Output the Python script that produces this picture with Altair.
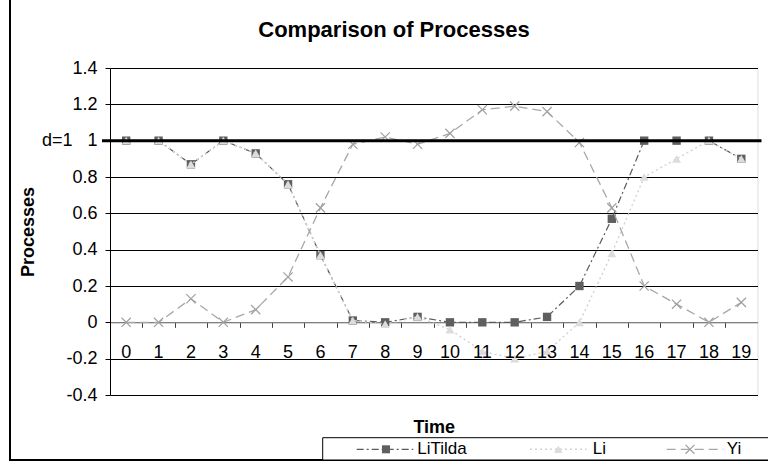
import altair as alt
import pandas as pd

# ---- data ----
time = list(range(20))
litilda = [1, 1, 0.87, 1, 0.93, 0.76, 0.37, 0.01, 0, 0.03, 0, 0, 0, 0.03, 0.2, 0.57, 1, 1, 1, 0.9]
li = [1, 1, 0.87, 1, 0.93, 0.76, 0.37, 0.01, -0.01, 0.03, -0.04, -0.16, -0.2, -0.16, 0, 0.38, 0.8, 0.9, 1, 0.9]
yi = [0, 0, 0.13, 0, 0.07, 0.25, 0.63, 0.98, 1.02, 0.98, 1.04, 1.17, 1.19, 1.16, 0.99, 0.63, 0.2, 0.1, 0, 0.11]
y_ticks = [-0.4, -0.2, 0, 0.2, 0.4, 0.6, 0.8, 1, 1.2, 1.4]
threshold = [1]
chart_title = "Comparison of Processes"

FONT = "Liberation Sans"
W, H = 647.5, 327

df = pd.DataFrame({"t": time, "LiTilda": litilda, "Li": li, "Yi": yi})

xscale = alt.Scale(domain=[-0.5, 19.5], nice=False, zero=False)
yscale = alt.Scale(domain=[-0.4, 1.4], nice=False, zero=False)

x_axis = alt.Axis(
    values=[k + 0.5 for k in range(19)], labels=False, grid=False,
    tickSize=5, tickColor="#404040", domainColor="#808080", domainWidth=1,
    offset=-H * 0.4 / 1.8, title="Time", titleFont=FONT, titleFontSize=18,
    titleFontWeight="bold", titleColor="black", titleY=110, titleBaseline="alphabetic",
)
y_axis = alt.Axis(
    values=y_ticks, grid=True,
    gridColor={"condition": {"test": "datum.value === 0", "value": "#808080"}, "value": "black"},
    gridWidth=1, domainColor="black", tickColor="black", tickSize=5,
    labelFont=FONT, labelFontSize=18, labelColor="black", labelPadding=8,
    labelExpr="datum.value == 1 ? 'd=1\u00a0\u00a0\u00a01' : '' + datum.value",
    title="Processes", titleFont=FONT, titleFontSize=18, titleFontWeight="bold",
    titleColor="black", titleX=-76.5, titleY=H / 2, titleAngle=270,
    titleAlign="center", titleBaseline="alphabetic",
)


def X(field):
    return alt.X(field, type="quantitative", scale=xscale, axis=x_axis, title="Time")


def Y(field):
    return alt.Y(field, type="quantitative", scale=yscale, axis=y_axis, title="Processes")


base = alt.Chart(df)

lt_line = base.mark_line(color="#5a5a5a", strokeWidth=1.2, strokeDash=[7, 3, 2, 3]).encode(x=X("t"), y=Y("LiTilda"))
lt_pts = base.mark_point(shape="square", filled=True, size=70, color="#5f5f5f", opacity=1).encode(x=X("t"), y=Y("LiTilda"))
li_line = base.mark_line(color="#d2d2d2", strokeWidth=1.4, strokeDash=[2, 3]).encode(x=X("t"), y=Y("Li"))
li_pts = base.mark_point(shape="triangle-up", filled=True, size=80, color="#dcdcdc", opacity=1).encode(x=X("t"), y=Y("Li"))
cross = "M-1,-1L1,1M-1,1L1,-1"
yi_line = base.mark_line(color="#a8a8a8", strokeWidth=1.3, strokeDash=[9, 5]).encode(x=X("t"), y=Y("Yi"))
yi_pts = base.mark_point(shape=cross, filled=False, size=85, color="#a0a0a0", strokeWidth=1.2, opacity=1).encode(x=X("t"), y=Y("Yi"))

x_labels = base.mark_text(font=FONT, fontSize=18, color="black", baseline="alphabetic", dy=36).encode(
    x=X("t"), y=alt.Y(datum=0, type="quantitative", scale=yscale, axis=y_axis, title="Processes"),
    text=alt.Text("t:N"),
)

thr = alt.Chart(pd.DataFrame({"d": threshold})).mark_rule(color="black", strokeWidth=3).encode(
    y=Y("d"), x=alt.value(-8), x2=alt.value(W + 4)
)

one = pd.DataFrame({"k": [0]})
title_mark = alt.Chart(one).mark_text(font=FONT, fontSize=22, fontWeight="bold", color="black",
                                      align="center", baseline="alphabetic").encode(
    x=alt.value(284), y=alt.value(-31), text=alt.value(chart_title))
frame = alt.Chart(one).mark_rect(fill=None, stroke="black", strokeWidth=2).encode(
    x=alt.value(-100), x2=alt.value(W + 60), y=alt.value(-90), y2=alt.value(392)
)
legend_box = alt.Chart(one).mark_rect(fill="white", stroke="black", strokeWidth=1).encode(
    x=alt.value(212.7), x2=alt.value(W + 60), y=alt.value(369.7), y2=alt.value(392)
)

leg_layers = [legend_box]
leg_specs = [
    # name, line start, marker x, text x, line style, marker style
    ("LiTilda", 246.7, 276, 307.3, dict(color="#5a5a5a", strokeWidth=1.2, strokeDash=[7, 3, 2, 3]),
     dict(shape="square", filled=True, size=64, color="#5f5f5f", opacity=1)),
    ("Li", 420, 448.3, 482.7, dict(color="#d2d2d2", strokeWidth=1.4, strokeDash=[2, 3]),
     dict(shape="triangle-up", filled=True, size=75, color="#dcdcdc", opacity=1)),
    ("Yi", 556.7, 580, 616.7, dict(color="#a8a8a8", strokeWidth=1.3, strokeDash=[9, 5]),
     dict(shape=cross, filled=False, size=80, color="#a0a0a0", strokeWidth=1.2, opacity=1)),
]
for name, x0, xm, xt, ls, ms in leg_specs:
    leg_layers.append(alt.Chart(one).mark_rule(**ls).encode(
        x=alt.value(x0), x2=alt.value(x0 + 56.6), y=alt.value(381.3)))
    leg_layers.append(alt.Chart(one).mark_point(**ms).encode(x=alt.value(xm), y=alt.value(381.3)))
    leg_layers.append(alt.Chart(one).mark_text(font=FONT, fontSize=17, color="black", align="left",
                                               baseline="alphabetic").encode(
        x=alt.value(xt), y=alt.value(386.3), text=alt.value(name)))

chart = alt.layer(
    lt_line, lt_pts, li_line, li_pts, yi_line, yi_pts, x_labels, thr, frame, title_mark, *leg_layers
).properties(
    width=W, height=H,
    autosize=alt.AutoSizeParams(type="none"),
    padding={"left": 110, "top": 68, "right": 10.5, "bottom": 69},
).configure_view(stroke="black", strokeWidth=1).configure(background="white")

chart.save("out.html", embed_options={"renderer": "svg", "actions": False})
